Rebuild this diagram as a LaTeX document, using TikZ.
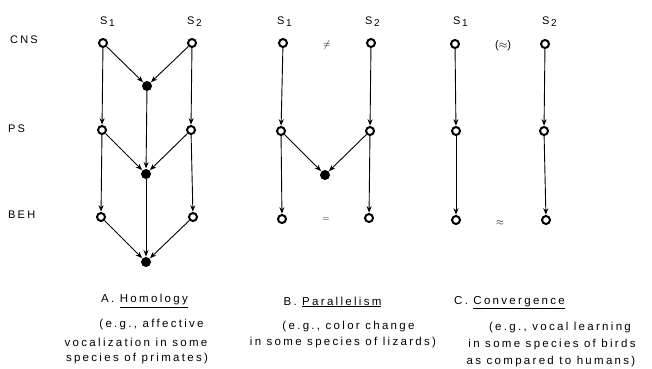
\documentclass[tikz,border=0pt]{standalone}
\usepackage{fontspec}
\setmainfont[LetterSpace=20]{Liberation Sans}
\usetikzlibrary{arrows.meta}
\tikzset{
  open/.style={circle,draw,line width=2pt,inner sep=0pt,minimum size=8pt},
  full/.style={circle,fill,inner sep=0pt,minimum size=10pt},
  arr/.style={-{Stealth[length=6.5pt,width=5pt]},line width=0.9pt,shorten >=0.3pt},
  lab/.style={font=\fontsize{11}{12}\selectfont,inner sep=0pt},
  txt/.style={font=\fontsize{11.5}{12}\selectfont,inner sep=0pt}
}
\newcommand{\Ssub}[1]{S\hspace{1.5pt}\raisebox{-2pt}{\fontsize{10}{10}\selectfont #1}}
\begin{document}
\begin{tikzpicture}[x=1pt,y=-1pt]
\useasboundingbox (0,0) rectangle (652,368);
% row labels
\node[lab,anchor=west] (cns) at (10,40) {CNS};
\node[lab,anchor=west] (ps) at (8,129) {PS};
\node[lab,anchor=west] (beh) at (8,215) {BEH};
% headers
\node[lab,anchor=west] (ha1) at (100,22) {\Ssub{1}};
\node[lab,anchor=west] (ha2) at (187,22) {\Ssub{2}};
\node[lab,anchor=west] (hb1) at (277,22) {\Ssub{1}};
\node[lab,anchor=west] (hb2) at (365,22) {\Ssub{2}};
\node[lab,anchor=west] (hc1) at (453,22) {\Ssub{1}};
\node[lab,anchor=west] (hc2) at (542,22) {\Ssub{2}};
% Panel A
\node[open] (a1) at (103,43) {};
\node[open] (a2) at (192,43) {};
\node[full] (af1) at (147,86) {};
\node[open] (a3) at (102,130) {};
\node[open] (a4) at (191,130) {};
\node[full] (af2) at (146,174) {};
\node[open] (a5) at (101,217) {};
\node[open] (a6) at (193,217) {};
\node[full] (af3) at (146,262) {};
\draw[arr] (a1) -- (a3);
\draw[arr] (a1) -- (af1);
\draw[arr] (a2) -- (af1);
\draw[arr] (a2) -- (a4);
\draw[arr] (af1) -- (af2);
\draw[arr] (a3) -- (af2);
\draw[arr] (a4) -- (af2);
\draw[arr] (a3) -- (a5);
\draw[arr] (a4) -- (a6);
\draw[arr] (af2) -- (af3);
\draw[arr] (a5) -- (af3);
\draw[arr] (a6) -- (af3);
% Panel B
\node[open] (b1) at (283,43) {};
\node[open] (b2) at (371,43) {};
\node[open] (b3) at (281,131) {};
\node[open] (b4) at (370,131) {};
\node[full] (bf) at (325,175) {};
\node[open] (b5) at (282,219) {};
\node[open] (b6) at (369,218) {};
\node[inner sep=0pt] (bne) at (327,45) {$\neq$};
\node[inner sep=0pt] (beq) at (326,220) {\small$=$};
\draw[arr] (b1) -- (b3);
\draw[arr] (b2) -- (b4);
\draw[arr] (b3) -- (b5);
\draw[arr] (b4) -- (b6);
\draw[arr] (b3) -- (bf);
\draw[arr] (b4) -- (bf);
% Panel C
\node[open] (c1) at (455,44) {};
\node[open] (c2) at (545,44) {};
\node[open] (c3) at (456,131) {};
\node[open] (c4) at (544,131) {};
\node[open] (c5) at (456,220) {};
\node[open] (c6) at (546,220) {};
\node[inner sep=0pt] (capx) at (503,46) {\fontsize{11}{12}\selectfont($\approx$)};
\node[inner sep=0pt] (capy) at (500,223) {$\approx$};
\draw[arr] (c1) -- (c3);
\draw[arr] (c2) -- (c4);
\draw[arr] (c3) -- (c5);
\draw[arr] (c4) -- (c6);
% captions
\node[txt] (ta) at (144.5,301) {A. \underline{Homology}};
\node[txt] (tb) at (332.5,302) {B. \underline{Parallelism}};
\node[txt] (tc) at (509.5,303) {C. \underline{Convergence}};
\node[txt] (a1t) at (151.5,325) {(e.g., affective};
\node[txt] (a2t) at (136,342) {vocalization in some};
\node[txt] (a3t) at (137,359) {species of primates)};
\node[txt] (b1t) at (348.5,327) {(e.g., color change};
\node[txt] (b2t) at (343,343) {in some species of lizards)};
\node[txt] (c1t) at (560,328) {(e.g., vocal learning};
\node[txt] (c2t) at (552,345) {in some species of birds};
\node[txt] (c3t) at (551,362) {as compared to humans)};
\end{tikzpicture}
\end{document}
